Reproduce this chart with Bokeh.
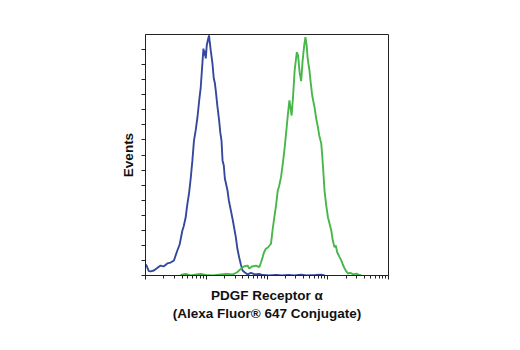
from bokeh.plotting import figure
from bokeh.models import FixedTicker, Range1d, CustomJSTickFormatter
from bokeh.embed import file_html
from bokeh.resources import INLINE

# Histogram data (log10 fluorescence, event counts)
blue_logx = [0.00, 0.017, 0.055, 0.083, 0.137, 0.182, 0.248, 0.298, 0.359, 0.413, 0.468, 0.524,
             0.562, 0.607, 0.628, 0.661, 0.686, 0.716, 0.744, 0.772, 0.798, 0.826, 0.855, 0.884,
             0.909, 0.934, 0.954, 0.967, 0.975, 0.992, 1.008, 1.025, 1.046, 1.058, 1.074, 1.102,
             1.124, 1.140, 1.157, 1.182, 1.212, 1.231, 1.251, 1.268, 1.289, 1.306, 1.350, 1.372,
             1.405, 1.438, 1.488, 1.512, 1.542, 1.570, 1.598, 1.636, 1.681, 1.736, 1.802, 1.868,
             1.934, 2.033, 2.149, 2.25, 2.35, 2.45, 2.56, 2.65, 2.80, 2.89, 2.95]
blue_count = [7.5, 6.6, 2.9, 2.7, 3.3, 4.6, 6.6, 6.0, 8.0, 8.6, 10.0, 16.6,
              20.6, 29.9, 32.5, 38.5, 46.5, 54.4, 64.4, 76.4, 89.6, 96.3, 104.9, 116.2,
              124.8, 139.4, 150.7, 146.0, 149.4, 144.1, 152.7, 156.0, 159.4, 154.7, 149.4, 140.8,
              130.8, 128.2, 122.8, 112.9, 102.9, 95.0, 89.6, 76.4, 73.0, 64.4, 56.4, 49.8,
              43.2, 36.5, 25.2, 17.9, 11.95, 7.3, 3.3, 2.0, 0.7, 1.7, 0.7, 1.0,
              0.3, 0.0, 0.3, 0.0, 0.4, 0.0, 0.6, 0.0, 0.3, 0.6, 0.0]

green_logx = [0.579, 0.661, 0.744, 0.843, 0.909, 0.992, 1.107, 1.240, 1.339, 1.438, 1.504, 1.570,
              1.620, 1.681, 1.707, 1.752, 1.818, 1.873, 1.901, 1.929, 1.950, 1.983, 2.017, 2.041,
              2.066, 2.091, 2.121, 2.149, 2.177, 2.198, 2.231, 2.256, 2.286, 2.306, 2.322, 2.347,
              2.369, 2.388, 2.405, 2.430, 2.455, 2.491, 2.512, 2.537, 2.562, 2.587, 2.612, 2.633,
              2.653, 2.669, 2.699, 2.719, 2.744, 2.760, 2.782, 2.810, 2.838, 2.860, 2.893, 2.909,
              2.926, 2.947, 2.975, 3.003, 3.025, 3.058, 3.083, 3.112, 3.132, 3.157, 3.195, 3.223,
              3.248, 3.278, 3.306, 3.334, 3.372, 3.421, 3.471, 3.521, 3.554]
green_count = [0.3, 1.0, 0.0, 0.7, 1.0, 0.3, 0.0, 0.7, 1.0, 0.7, 2.0, 4.4,
               6.0, 6.6, 4.6, 6.0, 6.6, 5.5, 8.6, 12.2, 15.3, 17.9, 18.6, 19.9,
               21.2, 29.9, 38.7, 46.5, 56.4, 59.1, 65.3, 73.0, 83.0, 91.0, 97.6, 108.2,
               116.2, 110.9, 106.2, 119.5, 136.1, 148.3, 146.0, 134.8, 129.0, 142.8, 152.7, 158.2,
               152.7, 144.1, 136.1, 128.2, 119.5, 116.2, 111.8, 104.2, 98.5, 93.0, 87.6, 79.7,
               69.7, 56.4, 46.5, 38.7, 35.2, 29.9, 23.2, 18.8, 19.9, 15.3, 12.2, 10.0,
               7.3, 4.6, 2.7, 1.3, 1.7, 0.7, 1.3, 0.3, 0.0]

x_decades = [0, 1, 2, 3, 4]
y_ticks = [0, 10, 20, 30, 40, 50, 60, 70, 80, 90, 100, 110, 120, 130, 140, 150]

x_title = "PDGF Receptor \u03b1\n(Alexa Fluor\u00ae 647 Conjugate)"
y_title = "Events"

FONT = "Liberation Sans"

p = figure(width=520, height=350, x_axis_type="log",
           x_range=Range1d(10 ** x_decades[0], 10 ** x_decades[-1]),
           y_range=Range1d(0, 160),
           output_backend="svg", toolbar_location=None,
           min_border_left=145, min_border_right=132, min_border_top=34, min_border_bottom=75)

p.background_fill_color = "white"
p.border_fill_color = "white"
p.outline_line_color = "#222222"
p.outline_line_width = 1
p.grid.visible = False

p.line([10 ** v for v in blue_logx], blue_count, line_color="#34499e", line_width=1.9)
p.line([10 ** v for v in green_logx], green_count, line_color="#47b74a", line_width=1.9)

major = [10.0 ** d for d in x_decades]
minor = [m * 10.0 ** d for d in x_decades[:-1] for m in range(2, 10)]
xa = p.xaxis[0]
xa.ticker = FixedTicker(ticks=major, minor_ticks=minor)
xa.formatter = CustomJSTickFormatter(code="return '';")
xa.major_label_standoff = 0
xa.major_tick_out = 4
xa.major_tick_in = 0
xa.minor_tick_out = 3
xa.minor_tick_in = 0
xa.axis_line_color = "#222222"
xa.major_tick_line_color = "#222222"
xa.minor_tick_line_color = "#222222"
xa.axis_label = x_title
xa.axis_label_text_font = FONT
xa.axis_label_text_font_style = "bold"
xa.axis_label_text_font_size = "13.5px"
xa.axis_label_text_line_height = 1.25
xa.axis_label_text_color = "#111111"
xa.axis_label_standoff = 8

ya = p.yaxis[0]
ya.ticker = FixedTicker(ticks=y_ticks)
ya.formatter = CustomJSTickFormatter(code="return '';")
ya.major_label_standoff = 0
ya.major_tick_out = 4
ya.major_tick_in = 0
ya.minor_tick_line_color = None
ya.axis_line_color = "#222222"
ya.major_tick_line_color = "#222222"
ya.axis_label = y_title
ya.axis_label_text_font = FONT
ya.axis_label_text_font_style = "bold"
ya.axis_label_text_font_size = "13.5px"
ya.axis_label_text_color = "#111111"
ya.axis_label_standoff = 6

open("out.html", "w").write(file_html(p, INLINE))
